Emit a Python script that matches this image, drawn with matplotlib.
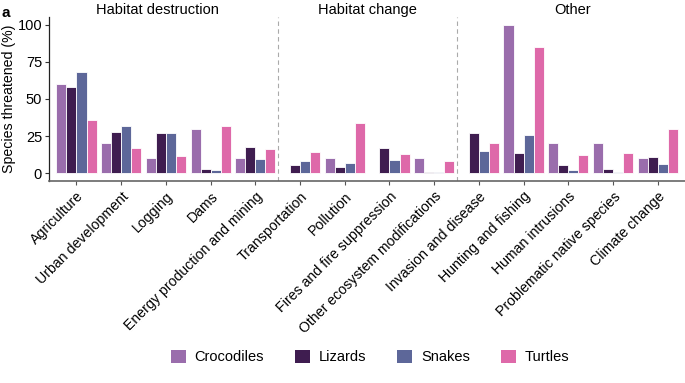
import matplotlib
matplotlib.use("Agg")
import matplotlib.pyplot as plt
from matplotlib.patches import Patch
from matplotlib.transforms import ScaledTranslation
import numpy as np

plt.rcParams['font.family'] = ['Liberation Sans', 'DejaVu Sans']

categories = ["Agriculture", "Urban development", "Logging", "Dams",
              "Energy production and mining", "Transportation", "Pollution",
              "Fires and fire suppression", "Other ecosystem modifications",
              "Invasion and disease", "Hunting and fishing", "Human intrusions",
              "Problematic native species", "Climate change"]
crocodiles = [60, 20, 10, 30, 10, 0, 10, 0, 10, 0, 100, 20, 20, 10]
lizards = [58, 28, 27, 2.7, 17.3, 5.4, 3.8, 17.1, 0.4, 27.2, 13.5, 5.2, 2.9, 10.6]
snakes = [68, 32, 27, 1.8, 9.2, 7.9, 7.0, 9.0, 0.9, 15.1, 25.6, 2.2, 0.5, 6.3]
turtles = [36, 17, 11.7, 32, 16, 14.4, 33.5, 13.0, 8.3, 20.4, 85.4, 11.9, 13.7, 29.9]
series_names = ["Crocodiles", "Lizards", "Snakes", "Turtles"]
colors = ["#9a6dac", "#3f1d50", "#5d6799", "#de69a9"]
sections = ["Habitat destruction", "Habitat change", "Other"]
section_pos = [1.82, 6.5, 11.1]
dividers = [4.5, 8.5]

fig = plt.figure(figsize=(6.85, 3.83), dpi=100)
ax = fig.add_axes([49/685, 1-181/383, 1-49/685, (181-17)/383])

x = np.arange(len(categories))
w = 0.225
for i, (vals, c) in enumerate(zip([crocodiles, lizards, snakes, turtles], colors)):
    ax.bar(x + (i - 1.5) * w, vals, width=w, color=c, edgecolor='white', linewidth=0.6)

ax.set_xlim(-0.615, 13.61)
ax.set_ylim(-5.4, 105.4)
ax.set_yticks([0, 25, 50, 75, 100])
ax.set_xticks(x)
labels = ax.set_xticklabels(categories, rotation=45, ha='right', va='top',
                            rotation_mode='anchor', fontsize=10.2)
shift = ScaledTranslation(-7/100, -5/100, fig.dpi_scale_trans)
for lab in labels:
    lab.set_transform(lab.get_transform() + shift)
ax.tick_params(axis='y', labelsize=10.5, length=3, width=0.8, color='#333333', pad=2)
ax.tick_params(axis='x', length=3, width=0.8, color='#555555', pad=3)
ax.set_ylabel("Species threatened (%)", fontsize=10.2, labelpad=1)

for s in ['top', 'right']:
    ax.spines[s].set_visible(False)
ax.spines['left'].set_color('#222222')
ax.spines['bottom'].set_color('#666666')
ax.spines['bottom'].set_linewidth(1.2)
ax.spines['left'].set_linewidth(0.9)

for d in dividers:
    ax.axvline(d, ymin=0, ymax=1, color='#aaaaaa', linestyle=(0, (4, 3)), linewidth=0.8)

for s, p in zip(sections, section_pos):
    ax.text(p, 110, s, ha='center', va='center', fontsize=10.5, clip_on=False)

fig.text(0.002, 0.985, "a", fontsize=11, fontweight='bold', va='top', ha='left')

handles = [Patch(facecolor=c, edgecolor='none') for c in colors]
fig.legend(handles, series_names, loc='center', bbox_to_anchor=(0.54, 0.068),
           ncol=4, frameon=False, fontsize=10.5, handlelength=1.05, handleheight=1.05,
           columnspacing=2.1, handletextpad=0.6)

fig.savefig("out.png", dpi=100)
